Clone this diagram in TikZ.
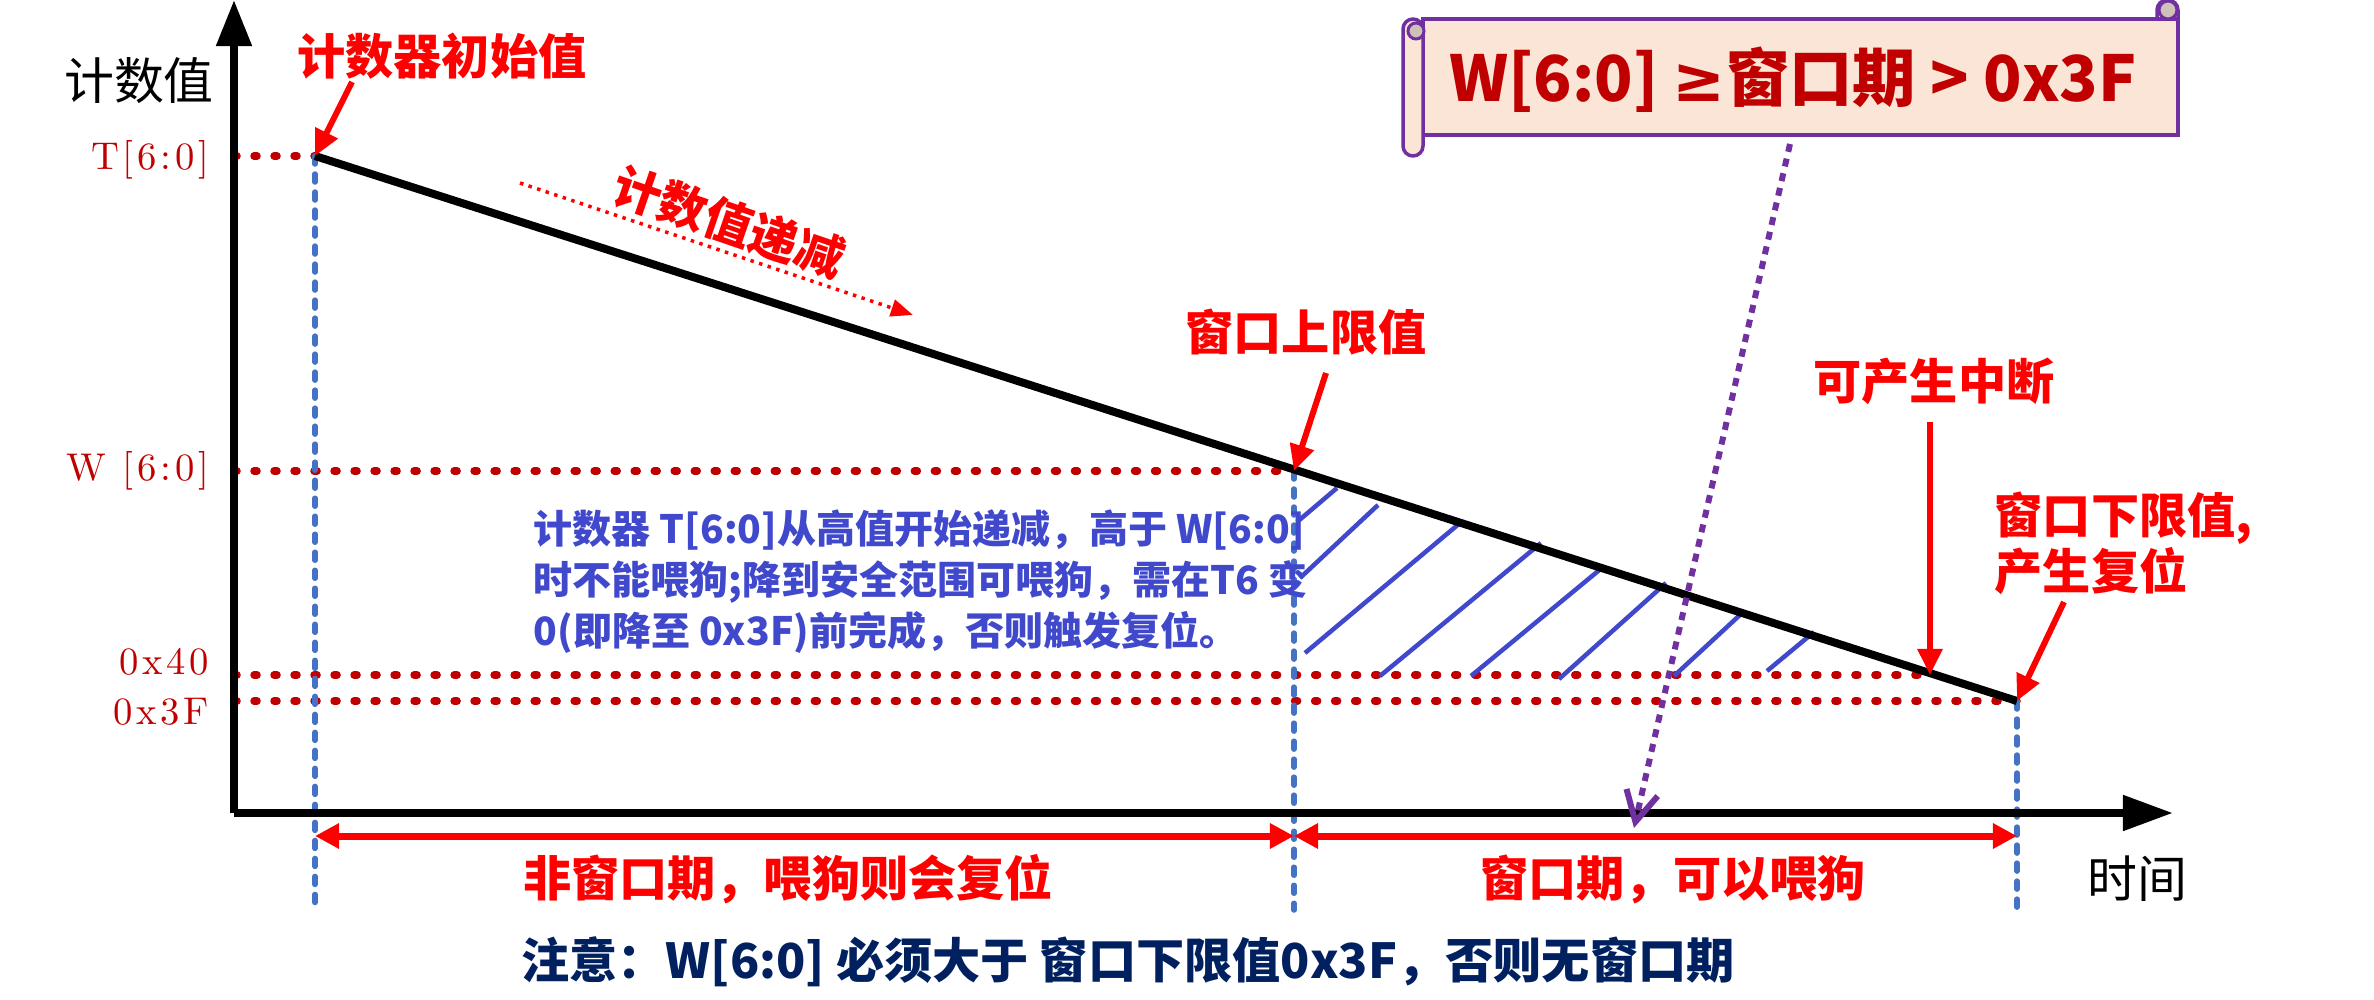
\documentclass[tikz,border=0pt]{standalone}
\usepackage{fontspec}
\newfontfamily\cjk{Noto Sans CJK SC}
\newfontfamily\symfont{DejaVu Sans}
\newfontfamily\axisfont[LetterSpace=10]{Latin Modern Roman}
\usetikzlibrary{arrows.meta}

\definecolor{wdgred}{HTML}{FF0000}
\definecolor{darkred}{HTML}{C00000}
\definecolor{dotblue}{HTML}{4472C4}
\definecolor{hatchblue}{HTML}{4048CC}
\definecolor{notenavy}{HTML}{002060}
\definecolor{scrollpurple}{HTML}{7030A0}
\definecolor{scrollfill}{HTML}{FBE5D6}
\definecolor{curlfill}{HTML}{CFC0B8}

\tikzset{
  redlbl/.style={font=\cjk\bfseries\fontsize{13.7}{16}\selectfont, text=wdgred, inner sep=0pt},
  axislbl/.style={font=\cjk\fontsize{14.2}{17}\selectfont, inner sep=0pt},
  reglbl/.style={font=\axisfont\fontsize{11}{13}\selectfont, text=darkred, inner sep=0pt, anchor=east},
  levelline/.style={darkred, line width=0.075cm, line cap=round, dash pattern=on 0.03cm off 0.17cm},
  timeline/.style={dotblue, line width=0.055cm, line cap=round, dash pattern=on 0.08cm off 0.1cm},
  redarrow/.style={wdgred, line width=0.06cm, -{Triangle[length=0.26cm,width=0.24cm]}},
  spanarrow/.style={wdgred, line width=0.07cm, {Triangle[length=0.24cm,width=0.24cm]}-{Triangle[length=0.24cm,width=0.24cm]}},
  hatch/.style={hatchblue, line width=0.045cm},
  scroll/.style={draw=scrollpurple, fill=scrollfill, line width=0.035cm},
}

\begin{document}
\begin{tikzpicture}[x=0.01cm, y=-0.01cm]
\useasboundingbox (0,0) rectangle (2374,1000);

% key points of the counter
\coordinate (O) at (234,813);
\coordinate (ytip) at (234,0);
\coordinate (xtip) at (2173,813);
\coordinate (Tpt) at (315,156);
\coordinate (Wpt) at (1294,471);
\coordinate (Ipt) at (1930,675);
\coordinate (Rpt) at (2017,701);

% level lines
\draw[levelline] (O |- Tpt) -- (Tpt);
\draw[levelline] (O |- Wpt) -- (Wpt);
\draw[levelline] (O |- Ipt) -- (Ipt);
\draw[levelline] (O |- Rpt) -- (Rpt);
\node[reglbl] (tlbl) at (210,160) {T[6:0]};
\node[reglbl] (wlbl) at (210,471) {W [6:0]};
\node[reglbl] (hlbl) at (210,662) {0x40};
\node[reglbl] (llbl) at (210,712) {0x3F};

% time marks
\coordinate (Tbot) at (315,905);
\coordinate (Wbot) at (1294,910);
\coordinate (Rbot) at (2017,915);
\draw[timeline] (Tpt) -- (Tbot);
\draw[timeline] (Wpt) -- (Wbot);
\draw[timeline] (Rpt) -- (Rbot);

% hatched window
\foreach \xa/\ya/\xb/\yb in {1297/522/1337/488, 1300/578/1378/505, 1305/653/1460/523,
    1380/676/1541/543, 1471/676/1603/567, 1559/679/1666/583, 1674/676/1741/614,
    1767/671/1814/632}
  \draw[hatch] (\xa,\ya) -- (\xb,\yb);

% counter
\draw[line width=0.08cm] (Tpt) -- (Rpt);

% axes
\draw[line width=0.08cm, -{Triangle[length=0.46cm,width=0.34cm]}] (O) -- (ytip);
\draw[line width=0.08cm, -{Triangle[length=0.5cm,width=0.34cm]}] (O) -- (xtip);
\node[axislbl] (ylbl) at (139,81) {计数值};
\node[axislbl] (xlbl) at (2137,879) {时间};

% labels with arrows
\node[redlbl] (initlbl) at (442,56) {计数器初始值};
\coordinate (initTail) at (352,82);
\draw[redarrow] (initTail) -- (Tpt);

\node[redlbl, rotate=-19] (declbl) at (729,222) {计数值递减};
\coordinate (decA) at (520,183);
\coordinate (decB) at (913,315);
\draw[wdgred, line width=0.035cm, dash pattern=on 0.035cm off 0.055cm,
  -{Triangle[length=0.22cm,width=0.17cm]}] (decA) -- (decB);

\node[redlbl] (uplbl) at (1306,332) {窗口上限值};
\coordinate (upTail) at (1326,373);
\draw[redarrow] (upTail) -- (Wpt);

\node[redlbl] (intlbl) at (1934,381) {可产生中断};
\coordinate (intTail) at (1930,422);
\draw[redarrow] (intTail) -- (Ipt);

\node[redlbl, align=left, anchor=west] (lowlbl) at (1994,543) {窗口下限值,\\产生复位};
\coordinate (lowTail) at (2064,602);
\draw[redarrow] (lowTail) -- (Rpt);

% periods
\coordinate (Ta) at (315,836);
\coordinate (Wa) at (1294,836);
\coordinate (Ra) at (2017,836);
\draw[spanarrow] (Ta) -- (Wa);
\draw[spanarrow] (Wa) -- (Ra);
\node[redlbl] (nwlbl) at (788,879) {非窗口期，喂狗则会复位};
\node[redlbl] (wplbl) at (1673,879) {窗口期，可以喂狗};

\node[redlbl, text=notenavy] (note) at (1128,962) {注意：W[6:0] 必须大于 窗口下限值0x3F，否则无窗口期};

\node[font=\cjk\bfseries\fontsize{11.1}{14.5}\selectfont, text=hatchblue, inner sep=0pt,
  align=left, anchor=west] (desc) at (533,582)
  {计数器 T[6:0]从高值开始递减，高于 W[6:0]\\时不能喂狗;降到安全范围可喂狗，需在T6 变\\0(即降至 0x3F)前完成，否则触发复位。};

% scroll banner
\path[scroll, rounded corners=0.1cm] (2157,0) rectangle (2178,45);
\path[scroll] (1423,19) rectangle (2178,135);
\path[scroll, rounded corners=0.1cm] (1403,19) rectangle (1423,156);
\path[draw=scrollpurple, fill=curlfill, line width=0.03cm] (1416,31) circle[radius=0.08cm];
\path[draw=scrollpurple, fill=curlfill, line width=0.03cm] (2168,10) circle[radius=0.09cm];
\node[font=\cjk\bfseries\fontsize{18}{22}\selectfont, text=darkred, inner sep=0pt] (bantxt) at (1793,80) {W[6:0] {\symfont\bfseries ≥}窗口期 > 0x3F};

\coordinate (banTail) at (1790,144);
\coordinate (banTip) at (1634,828);
\draw[scrollpurple, line width=0.06cm, dash pattern=on 0.08cm off 0.07cm,
  -{Straight Barb[length=0.3cm,width=0.32cm,line width=0.06cm]}] (banTail) -- (banTip);
\end{tikzpicture}
\end{document}
